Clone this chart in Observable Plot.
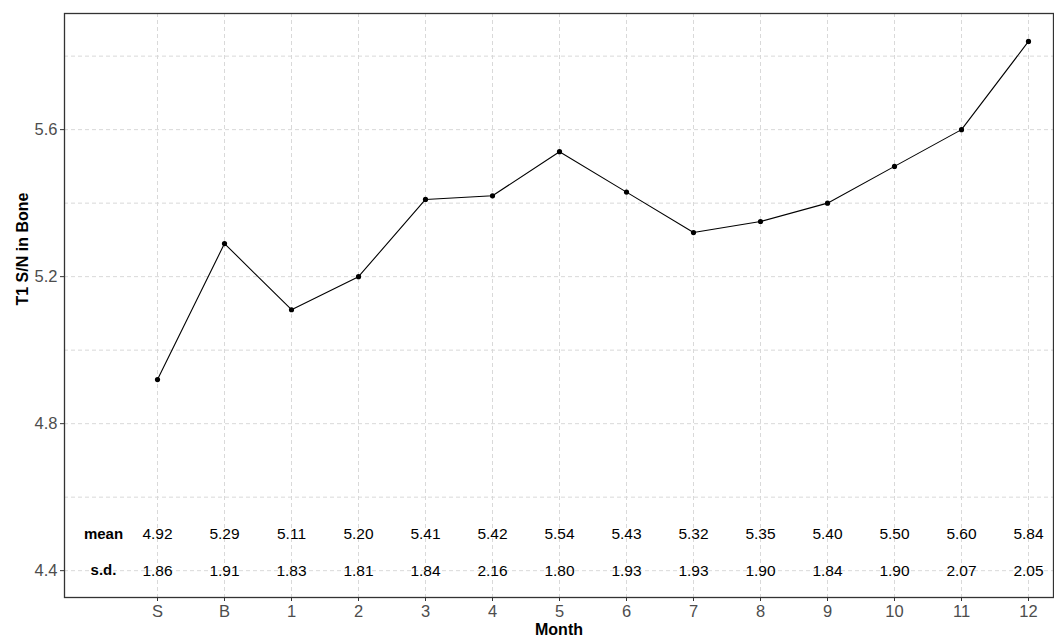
<!DOCTYPE html>
<html>
<head>
<meta charset="utf-8">
<script src="https://cdn.jsdelivr.net/npm/d3@7"></script>
<script src="https://cdn.jsdelivr.net/npm/@observablehq/plot@0.6"></script>
<style>
  html, body { margin: 0; padding: 0; background: white; }
</style>
</head>
<body>
<div id="chart"></div>
<script>
const months = ["S", "B", "1", "2", "3", "4", "5", "6", "7", "8", "9", "10", "11", "12"];
const means = [4.92, 5.29, 5.11, 5.20, 5.41, 5.42, 5.54, 5.43, 5.32, 5.35, 5.40, 5.50, 5.60, 5.84];
const sds = [1.86, 1.91, 1.83, 1.81, 1.84, 2.16, 1.80, 1.93, 1.93, 1.90, 1.84, 1.90, 2.07, 2.05];
const rowLabels = ["mean", "s.d."];
const rowValues = [4.5, 4.4];
const yTicks = [4.4, 4.8, 5.2, 5.6];
const yGrid = [4.4, 4.6, 4.8, 5.0, 5.2, 5.4, 5.6, 5.8];

const data = months.map((m, i) => ({month: m, mean: means[i], sd: sds[i]}));
const rows = rowLabels.map((r, i) => ({label: r, y: rowValues[i]}));

const chart = Plot.plot({
  width: 1054,
  height: 640,
  marginLeft: 64,
  marginTop: 13,
  marginBottom: 43,
  marginRight: 1,
  style: {fontFamily: "'Liberation Sans', Arial, sans-serif", fontSize: "16px", background: "white", overflow: "visible"},
  x: {type: "point", domain: months, range: [156, 1028], padding: 0},
  y: {domain: [4.327, 5.916]},
  marks: [
    Plot.gridX(months, {stroke: "#d9d9d9", strokeOpacity: 1, strokeDasharray: "4,3"}),
    Plot.gridY(yGrid, {stroke: "#d9d9d9", strokeOpacity: 1, strokeDasharray: "4,3"}),
    Plot.frame({stroke: "#333", strokeWidth: 1.3}),
    Plot.axisX({tickSize: 4, tickPadding: 4, stroke: "#333", fill: "#4d4d4d", label: null, fontSize: 16.5}),
    Plot.axisY(yTicks, {tickSize: 4, tickPadding: 3, stroke: "#333", fill: "#4d4d4d", label: null, fontSize: 16.5, tickFormat: d => d.toFixed(1)}),
    Plot.text(["Month"], {frameAnchor: "bottom", dy: 37, fontWeight: "bold", fontSize: 16, fill: "black"}),
    Plot.text(["T1 S/N in Bone"], {frameAnchor: "left", rotate: -90, dx: -42, fontWeight: "bold", fontSize: 16, fill: "black"}),
    Plot.line(data, {x: "month", y: "mean", stroke: "black", strokeWidth: 1.1}),
    Plot.dot(data, {x: "month", y: "mean", r: 2.6, fill: "black", stroke: "none"}),
    Plot.text(data, {x: "month", y: () => rowValues[0], text: d => d.mean.toFixed(2), fontSize: 15.5, fill: "black"}),
    Plot.text(data, {x: "month", y: () => rowValues[1], text: d => d.sd.toFixed(2), fontSize: 15.5, fill: "black"}),
    Plot.text(rows, {frameAnchor: "left", textAnchor: "middle", y: "y", text: "label", dx: 39, fontWeight: "bold", fontSize: 15, fill: "black"})
  ]
});
document.getElementById("chart").appendChild(chart);
</script>
</body>
</html>
